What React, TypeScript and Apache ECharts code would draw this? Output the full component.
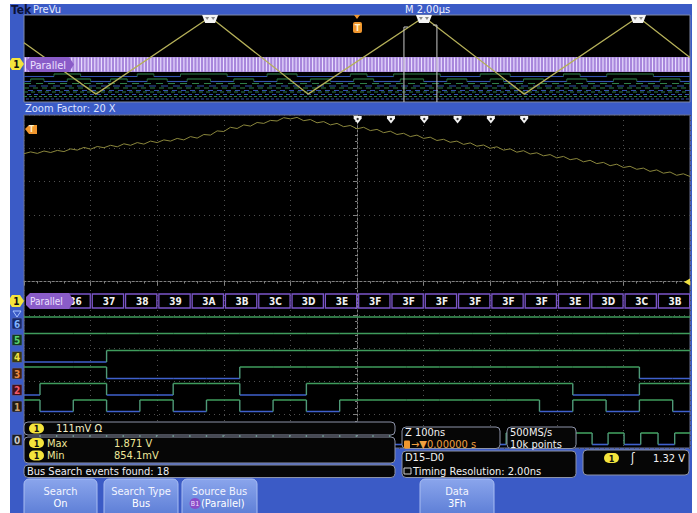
import React, { useEffect, useRef } from "react";
import * as echarts from "echarts";

// ---------------- data ----------------
// Overview (PreVu) record: time in µs, channel 1 in volts
const overviewTriangleUs = [0, 2.16, 5.59, 8.53, 12.01, 15.02, 18.44, 20];
const overviewTriangleV = [1.532, 0.854, 1.871, 0.854, 1.871, 0.854, 1.871, 1.337];
const searchClusterUs = [5.59, 12.01, 18.44];
const triggerUs = [10];
const zoomWindowUs = [11.41, 12.4];

// overview digital rows (high intervals, µs)
const overviewRow0High = [[0.9, 1.7], [3.4, 3.9], [4.7, 6.1], [7.3, 8.2], [9.8, 10.3], [11.1, 12.5], [13.7, 14.6], [16.2, 16.7], [17.5, 18.9]];
const overviewRow1High = [[0.2, 0.6], [1.3, 2.0], [2.6, 3.1], [3.7, 4.3], [4.9, 5.6], [6.3, 6.9], [7.6, 8.0], [8.6, 9.2], [9.9, 10.5], [11.3, 12.0], [12.7, 13.3], [14.0, 14.4], [15.0, 15.6], [16.3, 16.9], [17.7, 18.4], [19.1, 19.7]];

// Zoomed window: analog ch1, one sample every 10 ns, volts
const analogStepNs = 10;
const analogV = [
  1.746, 1.752, 1.747, 1.755, 1.750, 1.757, 1.753, 1.762, 1.758, 1.767,
  1.761, 1.770, 1.766, 1.774, 1.769, 1.779, 1.774, 1.783, 1.778, 1.788,
  1.783, 1.792, 1.788, 1.797, 1.792, 1.803, 1.798, 1.810, 1.808, 1.822,
  1.820, 1.834, 1.830, 1.842, 1.838, 1.850, 1.847, 1.857, 1.855, 1.866,
  1.862, 1.867, 1.856, 1.860, 1.849, 1.853, 1.842, 1.847, 1.836, 1.840,
  1.829, 1.834, 1.823, 1.827, 1.816, 1.821, 1.810, 1.814, 1.803, 1.808,
  1.797, 1.801, 1.790, 1.794, 1.784, 1.788, 1.777, 1.782, 1.771, 1.775,
  1.764, 1.769, 1.758, 1.762, 1.751, 1.756, 1.745, 1.749, 1.739, 1.743,
  1.732, 1.737, 1.726, 1.730, 1.719, 1.724, 1.713, 1.717, 1.706, 1.711,
  1.700, 1.704, 1.694, 1.698, 1.687, 1.692, 1.681, 1.685, 1.674, 1.679,
  1.670,
];

// Parallel bus (D6..D1): slot start times in ns and hex codes
const slotStartNs = [-26, 24, 74, 124, 174, 224, 274, 324, 374, 424, 474, 524, 574, 624, 674, 724, 774, 824, 874, 924, 974];
const busCodes = ["35", "36", "37", "38", "39", "3A", "3B", "3C", "3D", "3E", "3F", "3F", "3F", "3F", "3F", "3F", "3E", "3D", "3C", "3B", "3A"];
const slotEndNs = 1024;
const decodeDelayNs = 27;
// D0 high intervals (ns)
const clockHighNs = [[24, 49], [74, 99], [124, 149], [174, 199], [224, 249], [274, 299], [324, 349], [374, 399], [424, 449], [474, 499], [524, 549], [574, 599], [624, 649], [674, 699], [724, 749], [774, 799], [828, 853], [877, 901], [926, 952], [977, 1002]];
const searchCode = "3F";

// ---------------- layout / style ----------------
const FONT = '"DejaVu Sans Condensed", "DejaVu Sans", sans-serif';
const BLUE = "#3b5bc6";
const HI = "#3f9c5c";
const LO = "#3f60cc";
const EDGE = "#4f9a78";
const OV_HI = "#2f8048";
const OV_LO = "#3552b0";
const mainLaneHi = [317, 333.5, 350.5, 367, 383.5, 400, 433];
const laneDrop = 11.5;
const ovLaneHi = [74, 79, 83.5, 88, 92, 96.5];
const ovDrop = 2.5;
const busLabelCoverNs = 72; // the "Parallel" tag hides boxes ending before this time

function toSegments(highs: number[][], t0: number, t1: number, lane: number) {
  const out: number[][] = [];
  let t = t0;
  let prev = -1;
  for (const [a, b] of highs) {
    if (a > t) { out.push([t, a, 0, lane, prev]); prev = 0; }
    out.push([a, b, 1, lane, prev]); prev = 1; t = b;
  }
  if (t < t1) out.push([t, t1, 0, lane, prev]);
  return out;
}

function busBitSegments() {
  const out: number[][] = [];
  const bits = [5, 4, 3, 2, 1, 0];
  bits.forEach((bit, lane) => {
    let prev = -1;
    busCodes.forEach((c, i) => {
      const lv = (parseInt(c, 16) >> bit) & 1;
      const e = i + 1 < slotStartNs.length ? slotStartNs[i + 1] : slotEndNs;
      out.push([slotStartNs[i], e, lv, lane, prev]);
      prev = lv;
    });
  });
  return out;
}

function T(x: number, y: number, text: string, size: number, fill: string, extra: any = {}) {
  return {
    type: "text", x, y, z: 30, silent: true,
    style: { text, fontSize: size, fontFamily: FONT, fill, align: "left", verticalAlign: "middle", ...extra },
  };
}

function badge(x: number, y: number) {
  return {
    type: "group", x, y, z: 30, silent: true,
    children: [
      { type: "rect", z: 30, shape: { x: 0, y: -5, width: 15, height: 10, r: 5 }, style: { fill: "#f4e43c" } },
      { type: "text", z: 31, style: { text: "1", x: 7.5, y: 0.5, fontSize: 9, fontWeight: "bold", fontFamily: FONT, fill: "#111", align: "center", verticalAlign: "middle" } },
    ],
  };
}

function chTag(y: number) {
  return {
    type: "group", x: 10, y, z: 30, silent: true,
    children: [
      { type: "polygon", z: 30, shape: { points: [[2, -6], [10, -6], [14, 0], [10, 6], [2, 6], [0, 3], [0, -3]] }, style: { fill: "#f4e43c" } },
      { type: "text", z: 31, style: { text: "1", x: 6.5, y: 0.5, fontSize: 10, fontWeight: "bold", fontFamily: FONT, fill: "#111", align: "center", verticalAlign: "middle" } },
    ],
  };
}

function parallelPill(y: number, h: number, fs: number) {
  return {
    type: "group", x: 26, y, z: 30, silent: true,
    children: [
      { type: "polygon", z: 30, shape: { points: [[4, 0], [43, 0], [48, h / 2], [43, h], [4, h], [0, h - 4], [0, 4]] }, style: { fill: "#8a5cc8" } },
      { type: "text", z: 31, style: { text: "Parallel", x: 4, y: h / 2 + 0.5, fontSize: fs, fontFamily: FONT, fill: "#ece0ff", align: "left", verticalAlign: "middle" } },
    ],
  };
}

function box(x: number, y: number, w: number, h: number) {
  return { type: "rect", z: 25, silent: true, shape: { x, y, width: w, height: h, r: 4 }, style: { fill: "#060606", stroke: "#8d93a8", lineWidth: 1 } };
}

function button(x: number, w: number, l1: string, l2: string | null) {
  const cx = x + w / 2;
  const ch: any[] = [
    { type: "rect", z: 25, shape: { x, y: 479, width: w, height: 36, r: [5, 5, 0, 0] }, style: { fill: { type: "linear", x: 0, y: 0, x2: 0, y2: 1, colorStops: [{ offset: 0, color: "#8aa5ec" }, { offset: 1, color: "#5d7ed6" }] }, stroke: "#a9bdf2", lineWidth: 1 } },
    T(cx, 491.5, l1, 11, "#f2f4ff", { align: "center" }),
  ];
  if (l2) ch.push(T(cx, 503.5, l2, 11, "#ffffff", { align: "center" }));
  return ch;
}

const digitalLabels = [
  { t: "6", bg: "#16286a", fg: "#7fb2ff" },
  { t: "5", bg: "#123a1e", fg: "#5ad070" },
  { t: "4", bg: "#3a3810", fg: "#f0e040" },
  { t: "3", bg: "#42200e", fg: "#e88a44" },
  { t: "2", bg: "#44101a", fg: "#f25a6a" },
  { t: "1", bg: "#231a10", fg: "#c8a070" },
  { t: "0", bg: "#1e1e1e", fg: "#c8c8c8" },
];

export default function App() {
  const ref = useRef<HTMLDivElement>(null);
  useEffect(() => {
    if (!ref.current) return;
    const chart = echarts.init(ref.current, undefined, { renderer: "svg" });

    const ovSegs = [
      ...toSegments(overviewRow0High, 0, 20, 0),
      ...toSegments(overviewRow1High, 0, 20, 1),
    ];
    const ovDash = [[0, 20, 2], [0, 20, 3], [0, 20, 4], [0, 20, 5]];
    const mainSegs = [...busBitSegments(), ...toSegments(clockHighNs, -26, 1024, 6)];
    const boxes = busCodes
      .map((c, i) => [slotStartNs[i] + decodeDelayNs, (i + 1 < slotStartNs.length ? slotStartNs[i + 1] : slotEndNs) + decodeDelayNs, i])
      .filter((b) => (b[0] + b[1]) / 2 < 1000 && b[1] > busLabelCoverNs);
    const marks = boxes.filter((b) => busCodes[b[2]] === searchCode).map((b) => [b[0]]);

    const graphics: any[] = [
      { type: "rect", z: 0, silent: true, shape: { x: 10, y: 4, width: 682, height: 509 }, style: { fill: BLUE } },
      { type: "rect", z: 0, silent: true, shape: { x: 24, y: 15, width: 666, height: 87 }, style: { fill: "#000", stroke: "#7e88a6", lineWidth: 1 } },
      { type: "rect", z: 0, silent: true, shape: { x: 24, y: 115, width: 666, height: 333 }, style: { fill: "#000", stroke: "#6a7090", lineWidth: 1 } },
      T(11, 10, "Tek", 12, "#0b1236", { fontWeight: "bold" }),
      T(33, 9.5, "PreVu", 11, "#e8ecff"),
      T(405, 9.5, "M 2.00µs", 11, "#eef0ff"),
      T(25, 108.5, "Zoom Factor: 20 X", 11, "#dde2ff"),
      chTag(64),
      chTag(301),
      parallelPill(57, 15, 11),
      parallelPill(293, 16, 10),
      // trigger-off-screen icon in zoomed window
      { type: "polygon", z: 30, silent: true, shape: { points: [[25, 129], [29, 125], [37, 125], [37, 134], [29, 134]] }, style: { fill: "#f0962e" } },
      T(31.5, 129.5, "T", 8, "#fff1c8", { fontWeight: "bold", align: "center" }),
      // ch1 level arrow at right of zoomed window
      { type: "polygon", z: 30, silent: true, shape: { points: [[684, 282], [690, 278.5], [690, 285.5]] }, style: { fill: "#f0e040" } },
      // digital group indicator
      { type: "polygon", z: 30, silent: true, shape: { points: [[13, 311], [21, 311], [17, 317]] }, style: { fill: "none", stroke: "#a8c4ff", lineWidth: 1 } },
    ];
    digitalLabels.forEach((d, i) => {
      const cy = i < 6 ? mainLaneHi[i] + 6.5 : 440;
      graphics.push({ type: "rect", z: 30, silent: true, shape: { x: 12, y: cy - 5.5, width: 10, height: 11, r: 1 }, style: { fill: d.bg, stroke: "#5a6aa8", lineWidth: 0.6 } });
      graphics.push(T(17, cy + 0.5, d.t, 10, d.fg, { fontWeight: "bold", align: "center" }));
    });
    // readouts
    graphics.push(
      box(24, 422, 371, 13), badge(29, 428.5), T(56, 428.5, "111mV Ω", 11, "#f3efc8"),
      box(24, 437, 371, 26), badge(29, 443), T(47, 443, "Max", 11, "#eee69a"), T(114, 443, "1.871 V", 11, "#eee69a"),
      badge(29, 455.5), T(47, 455.5, "Min", 11, "#eee69a"), T(114, 455.5, "854.1mV", 11, "#eee69a"),
      box(24, 465, 371, 12.5), T(27, 471.5, "Bus Search events found: 18", 11, "#eeeef4"),
      box(402, 427, 98, 21.5), T(405, 432.5, "Z 100ns", 11, "#f2f2f2"),
      { type: "rect", z: 30, silent: true, shape: { x: 404, y: 440.5, width: 6, height: 8, r: 1 }, style: { fill: "#f0962e" } },
      T(411, 444.5, "→▼0.00000 s", 11, "#f0a040"),
      box(507, 427, 69, 21.5), T(510, 432.5, "500MS/s", 11, "#f2f2f2"), T(510, 444.5, "10k points", 11, "#f2f2f2"),
      box(402, 451, 174, 26.5), T(405, 457, "D15–D0", 11, "#f2f2f2"),
      { type: "rect", z: 30, silent: true, shape: { x: 404, y: 468, width: 7, height: 6 }, style: { fill: "none", stroke: "#d0d0d0", lineWidth: 1 } },
      T(413, 471, "Timing Resolution: 2.00ns", 11, "#f2f2f2"),
      box(583, 450, 106, 25), badge(604, 458), T(631, 458, "ʃ", 12, "#f2f2f2"), T(685, 458, "1.32 V", 11, "#f2f2f2", { align: "right" }),
    );
    graphics.push(...button(24, 73, "Search", "On"));
    graphics.push(...button(104, 74, "Search Type", "Bus"));
    graphics.push(...button(182, 75, "Source Bus", null));
    graphics.push({ type: "circle", z: 30, silent: true, shape: { cx: 195, cy: 503.5, r: 5.5 }, style: { fill: "#8a4cc8" } });
    graphics.push(T(195, 504, "B1", 7, "#f0e0ff", { align: "center" }));
    graphics.push(T(201, 503.5, "(Parallel)", 11, "#ffffff"));
    graphics.push(...button(420, 74, "Data", "3Fh"));

    const hidden = { show: false };

    const option: any = {
      animation: false,
      backgroundColor: "#ffffff",
      graphic: { elements: graphics },
      grid: [
        { left: 24, top: 15, width: 666, height: 87, show: false },
        { left: 24, top: 115, width: 666, height: 333, show: false },
      ],
      xAxis: [
        { gridIndex: 0, type: "value", min: 0, max: 20, show: false },
        {
          gridIndex: 1, type: "value", min: 0, max: 1000, interval: 100, z: 1,
          axisLine: hidden, axisTick: hidden, axisLabel: hidden,
          splitLine: { show: true, lineStyle: { color: "#505050", type: [1, 4], width: 1 } },
        },
        {
          gridIndex: 1, type: "value", min: 0, max: 1000, interval: 100, position: "bottom", offset: -166.5, z: 1,
          axisLine: { show: true, lineStyle: { color: "#808080", type: [2, 2], width: 1 } },
          axisTick: { show: true, length: 4, lineStyle: { color: "#808080" } },
          minorTick: { show: true, splitNumber: 5, length: 2, lineStyle: { color: "#808080" } },
          axisLabel: hidden, splitLine: hidden,
        },
      ],
      yAxis: [
        { gridIndex: 0, type: "value", min: 0.75, max: 1.897, show: false },
        {
          gridIndex: 1, type: "value", min: 0, max: 10, interval: 1, z: 1,
          axisLine: hidden, axisTick: hidden, axisLabel: hidden,
          splitLine: { show: true, lineStyle: { color: "#505050", type: [1, 4], width: 1 } },
        },
        { gridIndex: 1, type: "value", min: 0.765, max: 1.875, show: false },
        {
          gridIndex: 1, type: "value", min: 0, max: 10, interval: 1, position: "left", offset: -333, z: 1,
          axisLine: { show: true, lineStyle: { color: "#808080", type: [2, 2], width: 1 } },
          axisTick: { show: true, length: 4, lineStyle: { color: "#808080" } },
          minorTick: { show: true, splitNumber: 5, length: 2, lineStyle: { color: "#808080" } },
          axisLabel: hidden, splitLine: hidden,
        },
      ],
      series: [
        // overview bus band
        {
          type: "custom", xAxisIndex: 0, yAxisIndex: 0, z: 2, silent: true, clip: true,
          data: [[0, 20]],
          renderItem: (p: any, api: any) => {
            const a = api.coord([api.value(0), 1]);
            const b = api.coord([api.value(1), 1]);
            const ch: any[] = [{ type: "rect", shape: { x: a[0], y: 57, width: b[0] - a[0], height: 15 }, style: { fill: "#a886dc" } }];
            for (let x = a[0] + 1.5; x < b[0]; x += 3.3) {
              ch.push({ type: "line", shape: { x1: x, y1: 57.5, x2: x, y2: 71.5 }, style: { stroke: "#ebe2ff", lineWidth: 1.1 } });
            }
            return { type: "group", children: ch };
          },
        },
        // overview digital rows (switching)
        {
          type: "custom", xAxisIndex: 0, yAxisIndex: 0, z: 2, silent: true, clip: true,
          data: ovSegs,
          renderItem: (p: any, api: any) => {
            const a = api.coord([api.value(0), 1]);
            const b = api.coord([api.value(1), 1]);
            const lv = api.value(2), lane = api.value(3), pv = api.value(4);
            const yh = ovLaneHi[lane];
            const y = lv ? yh : yh + ovDrop;
            const ch: any[] = [{ type: "line", shape: { x1: a[0], y1: y, x2: b[0], y2: y }, style: { stroke: lv ? OV_HI : OV_LO, lineWidth: 1.1 } }];
            if (pv >= 0 && pv !== lv) ch.push({ type: "line", shape: { x1: a[0], y1: yh, x2: a[0], y2: yh + ovDrop }, style: { stroke: OV_HI, lineWidth: 0.8 } });
            return { type: "group", children: ch };
          },
        },
        // overview digital rows (fast toggling)
        {
          type: "custom", xAxisIndex: 0, yAxisIndex: 0, z: 2, silent: true, clip: true,
          data: ovDash,
          renderItem: (p: any, api: any) => {
            const a = api.coord([api.value(0), 1]);
            const b = api.coord([api.value(1), 1]);
            const lane = api.value(2);
            const yh = ovLaneHi[lane];
            const dash = [[7, 5], [5, 4], [4, 3], [3, 2]][lane - 2];
            return {
              type: "group",
              children: [
                { type: "line", shape: { x1: a[0], y1: yh, x2: b[0], y2: yh }, style: { stroke: OV_HI, lineWidth: 1.1, lineDash: dash } },
                { type: "line", shape: { x1: a[0], y1: yh + ovDrop, x2: b[0], y2: yh + ovDrop }, style: { stroke: OV_LO, lineWidth: 1.1, lineDash: dash, lineDashOffset: dash[0] } },
              ],
            };
          },
        },
        // overview analog triangle
        {
          type: "line", xAxisIndex: 0, yAxisIndex: 0, z: 4, silent: true, showSymbol: false,
          data: overviewTriangleUs.map((t, i) => [t, overviewTriangleV[i]]),
          lineStyle: { color: "#b4af58", width: 1.3 },
        },
        // overview search clusters
        {
          type: "custom", xAxisIndex: 0, yAxisIndex: 0, z: 6, silent: true,
          data: searchClusterUs.map((t) => [t]),
          renderItem: (p: any, api: any) => {
            const x = api.coord([api.value(0), 1])[0];
            return {
              type: "group",
              children: [
                { type: "polygon", shape: { points: [[x - 8, 15], [x + 8, 15], [x + 5, 23], [x - 5, 23]] }, style: { fill: "#f4f4f4" } },
                { type: "polygon", shape: { points: [[x - 5, 17], [x - 1, 17], [x - 3, 20]] }, style: { fill: "#8a8a8a" } },
                { type: "polygon", shape: { points: [[x + 1, 17], [x + 5, 17], [x + 3, 20]] }, style: { fill: "#8a8a8a" } },
              ],
            };
          },
        },
        // overview trigger point
        {
          type: "custom", xAxisIndex: 0, yAxisIndex: 0, z: 6, silent: true,
          data: triggerUs.map((t) => [t]),
          renderItem: (p: any, api: any) => {
            const x = api.coord([api.value(0), 1])[0];
            return {
              type: "group",
              children: [
                { type: "polygon", shape: { points: [[x - 3, 15], [x + 3, 15], [x, 19]] }, style: { fill: "#f0962e" } },
                { type: "rect", shape: { x: x - 4, y: 22, width: 9, height: 11, r: 2 }, style: { fill: "#f0962e" } },
                { type: "text", style: { text: "T", x: x + 0.5, y: 28, fontSize: 9, fontWeight: "bold", fontFamily: FONT, fill: "#fff1c8", align: "center", verticalAlign: "middle" } },
              ],
            };
          },
        },
        // overview zoom window
        {
          type: "custom", xAxisIndex: 0, yAxisIndex: 0, z: 6, silent: true,
          data: [zoomWindowUs],
          renderItem: (p: any, api: any) => {
            const a = api.coord([api.value(0), 1])[0];
            const b = api.coord([api.value(1), 1])[0];
            const st = { stroke: "#c9c9c9", lineWidth: 1 };
            return {
              type: "group",
              children: [
                { type: "polyline", shape: { points: [[a + 4, 27], [a, 27], [a, 102]] }, style: { ...st, fill: "none" } },
                { type: "polyline", shape: { points: [[b - 4, 25], [b, 25], [b, 102]] }, style: { ...st, fill: "none" } },
              ],
            };
          },
        },
        // zoomed analog channel 1
        {
          type: "line", xAxisIndex: 1, yAxisIndex: 2, z: 3, silent: true, showSymbol: false,
          data: analogV.map((v, i) => [i * analogStepNs, v]),
          lineStyle: { color: "#8a863c", width: 1 },
        },
        // zoomed digital channels
        {
          type: "custom", xAxisIndex: 1, yAxisIndex: 1, z: 3, silent: true, clip: true,
          data: mainSegs,
          renderItem: (p: any, api: any) => {
            const a = api.coord([api.value(0), 0]);
            const b = api.coord([api.value(1), 0]);
            const lv = api.value(2), lane = api.value(3), pv = api.value(4);
            const yh = mainLaneHi[lane];
            const y = lv ? yh : yh + laneDrop;
            const ch: any[] = [{ type: "line", shape: { x1: a[0], y1: y, x2: b[0], y2: y }, style: { stroke: lv ? HI : LO, lineWidth: 1.6 } }];
            if (pv >= 0 && pv !== lv) ch.push({ type: "line", shape: { x1: a[0], y1: yh, x2: a[0], y2: yh + laneDrop }, style: { stroke: EDGE, lineWidth: 1.4 } });
            return { type: "group", children: ch };
          },
        },
        // bus decode boxes
        {
          type: "custom", xAxisIndex: 1, yAxisIndex: 1, z: 3, silent: true, clip: true,
          data: boxes,
          renderItem: (p: any, api: any) => {
            const a = api.coord([api.value(0), 0])[0];
            const b = api.coord([api.value(1), 0])[0];
            const label = busCodes[api.value(2)];
            return {
              type: "group",
              children: [
                { type: "rect", shape: { x: a + 1, y: 294, width: b - a - 2, height: 14 }, style: { fill: "#000", stroke: "#7b56c9", lineWidth: 1.3 } },
                { type: "text", style: { text: label, x: (a + b) / 2 + 1, y: 301.5, fontSize: 10, fontWeight: "bold", fontFamily: FONT, fill: "#f0f0f0", align: "center", verticalAlign: "middle" } },
              ],
            };
          },
        },
        // search marks in zoomed window
        {
          type: "custom", xAxisIndex: 1, yAxisIndex: 1, z: 6, silent: true,
          data: marks,
          renderItem: (p: any, api: any) => {
            const x = api.coord([api.value(0), 0])[0];
            return {
              type: "group",
              children: [
                { type: "polygon", shape: { points: [[x - 4, 116], [x + 4, 116], [x + 4, 118.5], [x, 123.5], [x - 4, 118.5]] }, style: { fill: "#f4f4f4" } },
                { type: "circle", shape: { cx: x, cy: 119, r: 1.2 }, style: { fill: "#333" } },
              ],
            };
          },
        },
      ],
    };
    chart.setOption(option);
    return () => chart.dispose();
  }, []);
  return <div ref={ref} style={{ position: "absolute", left: 0, top: 0, width: 697, height: 513 }} />;
}
